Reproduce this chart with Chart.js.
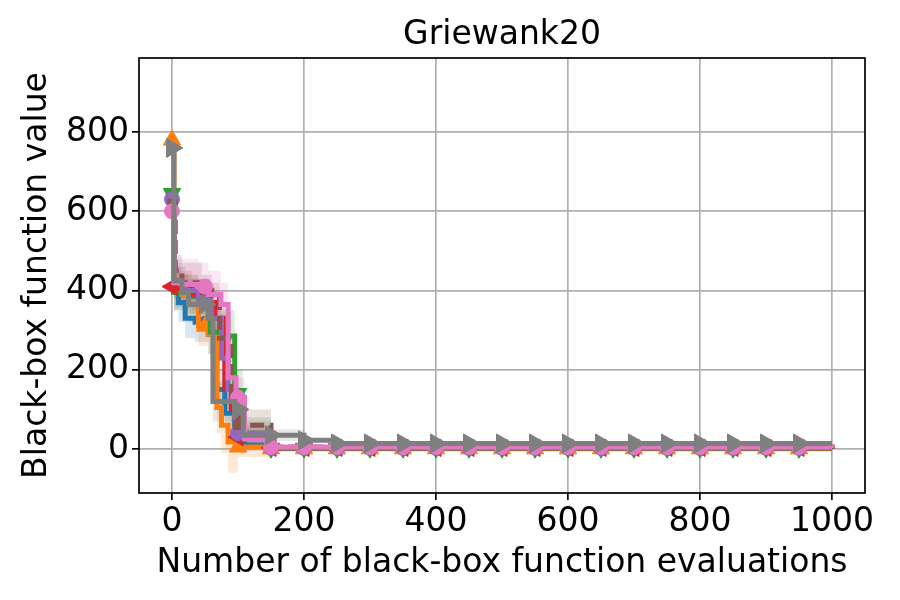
<!DOCTYPE html>
<html>
<head>
<meta charset="utf-8">
<script src="https://cdn.jsdelivr.net/npm/chart.js@4/dist/chart.umd.min.js"></script>
<style>
  html, body { margin: 0; padding: 0; background: #fff; }
  #wrap { width: 900px; height: 600px; }
</style>
</head>
<body>
<div id="wrap"><canvas id="chart" width="900" height="600"></canvas></div>
<script>
// axis ticks
const xTicks = [0, 200, 400, 600, 800, 1000];
const yTicks = [0, 200, 400, 600, 800];
const markerStep = 50;

// best-so-far curves: evaluation where the value changes, mean value, band low / high
const blueX = [0, 3, 10, 20, 35, 55, 68, 80, 95, 110, 150, 250, 1000];
const blueY = [640, 395, 370, 330, 320, 290, 150, 90, 40, 10, 4, 2, 2];
const blueLo = [640, 350, 320, 280, 270, 240, 100, 40, 5, -5, 0, 1, 1];
const blueHi = [640, 440, 420, 380, 370, 340, 200, 140, 75, 25, 8, 3, 3];

const orangeX = [0, 3, 15, 40, 55, 68, 75, 85, 100, 150, 1000];
const orangeY = [780, 410, 390, 310, 290, 105, 60, 18, 5, 0.5, 0.5];
const orangeLo = [780, 360, 340, 260, 240, 40, -10, -60, -20, -1, 0];
const orangeHi = [780, 460, 440, 360, 340, 170, 130, 90, 30, 3, 1];

const greenX = [0, 3, 25, 58, 75, 95, 107, 150, 1000];
const greenY = [645, 395, 385, 295, 285, 140, 40, 2, 0.5];
const greenLo = [645, 350, 340, 225, 220, 80, 0, 0, 0];
const greenHi = [645, 440, 430, 360, 350, 200, 80, 5, 1];

const redX = [0, 5, 30, 50, 65, 80, 90, 100, 150, 1000];
const redY = [410, 405, 390, 370, 330, 150, 100, 30, 3, 1];
const redLo = [410, 360, 350, 330, 290, 100, 50, 0, 0, 0];
const redHi = [410, 450, 430, 410, 370, 200, 150, 60, 6, 2];

const purpleX = [0, 3, 20, 40, 60, 75, 85, 97, 150, 1000];
const purpleY = [630, 420, 400, 370, 330, 230, 150, 40, 3, 1];
const purpleLo = [630, 380, 360, 330, 290, 170, 100, 10, 0, 0];
const purpleHi = [630, 460, 440, 410, 370, 290, 200, 70, 6, 2];

const brownX = [0, 5, 15, 45, 60, 72, 90, 100, 150, 1000];
const brownY = [620, 450, 420, 400, 380, 280, 120, 60, 5, 1];
const brownLo = [620, 400, 380, 360, 330, 220, 70, 20, 0, 0];
const brownHi = [620, 490, 470, 440, 420, 340, 170, 100, 10, 2];

const pinkX = [0, 3, 15, 40, 55, 74, 85, 97, 110, 150, 1000];
const pinkY = [600, 420, 415, 410, 390, 365, 180, 130, 25, 5, 2.5];
const pinkLo = [600, 380, 370, 360, 340, 310, 130, 80, 5, 0, 1];
const pinkHi = [600, 480, 480, 470, 450, 420, 230, 180, 50, 10, 4];

const grayX = [0, 3, 15, 25, 55, 62, 95, 108, 200, 250, 1000];
const grayY = [760, 425, 395, 365, 330, 120, 100, 35, 22, 14, 14];
const grayLo = [760, 380, 350, 320, 280, 70, 50, 20, 18, 12, 12];
const grayHi = [760, 470, 440, 410, 380, 170, 150, 50, 26, 16, 16];

const series = [
    { color: '#1f77b4', x: blueX, y: blueY, lo: blueLo, hi: blueHi, style: 'circle', rot: 0, r: 6 },
    { color: '#ff7f0e', x: orangeX, y: orangeY, lo: orangeLo, hi: orangeHi, style: 'triangle', rot: 0, r: 10 },
    { color: '#2ca02c', x: greenX, y: greenY, lo: greenLo, hi: greenHi, style: 'triangle', rot: 180, r: 10 },
    { color: '#d62728', x: redX, y: redY, lo: redLo, hi: redHi, style: 'triangle', rot: 270, r: 10 },
    { color: '#9467bd', x: purpleX, y: purpleY, lo: purpleLo, hi: purpleHi, style: 'circle', rot: 0, r: 7.5 },
    { color: '#8c564b', x: brownX, y: brownY, lo: brownLo, hi: brownHi, style: 'rect', rot: 0, r: 6, dash: [14, 6] },
    { color: '#e377c2', x: pinkX, y: pinkY, lo: pinkLo, hi: pinkHi, style: 'circle', rot: 0, r: 7.5 },
    { color: '#7f7f7f', x: grayX, y: grayY, lo: grayLo, hi: grayHi, style: 'triangle', rot: 90, r: 11 }
];

function hexToRgba(hex, a) {
    const n = parseInt(hex.slice(1), 16);
    return `rgba(${(n >> 16) & 255}, ${(n >> 8) & 255}, ${n & 255}, ${a})`;
}

function valueAt(xs, ys, m) {
    let v = ys[0];
    for (let i = 0; i < xs.length; i++) {
        if (xs[i] <= m) v = ys[i];
    }
    return v;
}

// line points = change points + marker points every 50 evaluations
function buildLine(s) {
    const pts = s.x.map((x, i) => ({ x: x, y: s.y[i], m: false }));
    for (let m = 0; m < 1000; m += markerStep) {
        const same = pts.find(p => p.x === m);
        if (same) same.m = true;
        else pts.push({ x: m, y: valueAt(s.x, s.y, m), m: true });
    }
    pts.sort((a, b) => a.x - b.x);
    return pts;
}

const datasets = [];
series.forEach((s, i) => {
    const hiPts = s.x.slice(1).map((x, k) => ({ x: x, y: s.hi[k + 1] }));
    const loPts = s.x.slice(1).map((x, k) => ({ x: x, y: s.lo[k + 1] }));
    datasets.push({
        data: hiPts, stepped: true, borderWidth: 0, pointRadius: 0,
        backgroundColor: hexToRgba(s.color, 0.18), fill: '+1', order: 300 - i
    });
    datasets.push({
        data: loPts, stepped: true, borderWidth: 0, pointRadius: 0,
        backgroundColor: 'rgba(0,0,0,0)', fill: false, order: 300 - i
    });
});
series.forEach((s, i) => {
    datasets.push({
        data: buildLine(s),
        stepped: true,
        borderColor: s.color,
        borderWidth: 5,
        borderDash: s.dash || [],
        fill: false,
        pointStyle: s.style,
        rotation: s.rot,
        pointRadius: ctx => (ctx.raw && ctx.raw.m ? s.r : 0),
        pointBackgroundColor: s.color,
        pointBorderColor: s.color,
        pointBorderWidth: 1,
        order: 100 - i
    });
});

const frame = {
    id: 'frame',
    afterDatasetsDraw(chart) {
        const a = chart.chartArea;
        const ctx = chart.ctx;
        ctx.save();
        ctx.strokeStyle = '#000';
        ctx.lineWidth = 1.7;
        ctx.strokeRect(a.left, a.top, a.right - a.left, a.bottom - a.top);
        ctx.restore();
    }
};

Chart.defaults.font.family = "'DejaVu Sans', sans-serif";
Chart.defaults.font.size = 33;
Chart.defaults.color = '#000';

new Chart(document.getElementById('chart'), {
    type: 'line',
    data: { datasets: datasets },
    plugins: [frame],
    options: {
        responsive: false,
        animation: false,
        events: [],
        layout: { padding: { left: 0, right: 35, top: 0, bottom: 0 } },
        plugins: {
            legend: { display: false },
            tooltip: { enabled: false },
            title: {
                display: true,
                text: 'Griewank20',
                fullSize: false,
                color: '#000',
                font: { size: 33, weight: 'normal' },
                padding: { top: 16, bottom: 2.4 }
            }
        },
        scales: {
            x: {
                type: 'linear',
                min: -50,
                max: 1050,
                afterBuildTicks: sc => { sc.ticks = xTicks.map(v => ({ value: v })); },
                afterFit: sc => { sc.height = 107; },
                ticks: { padding: 3, maxRotation: 0, autoSkip: false, callback: v => String(v) },
                grid: { color: '#b0b0b0', lineWidth: 1.7, tickColor: '#000', tickLength: 7, tickWidth: 1.7 },
                border: { display: false },
                title: {
                    display: true,
                    text: 'Number of black-box function evaluations',
                    padding: { top: 0, bottom: 17 }
                }
            },
            y: {
                type: 'linear',
                min: -111,
                max: 987,
                afterBuildTicks: sc => { sc.ticks = yTicks.map(v => ({ value: v })); },
                afterFit: sc => { sc.width = 139; },
                ticks: { padding: 3, autoSkip: false, callback: v => String(v) },
                grid: { color: '#b0b0b0', lineWidth: 1.7, tickColor: '#000', tickLength: 7, tickWidth: 1.7 },
                border: { display: false },
                title: {
                    display: true,
                    text: 'Black-box function value',
                    padding: { top: 18, bottom: 0 }
                }
            }
        }
    }
});
</script>
</body>
</html>
